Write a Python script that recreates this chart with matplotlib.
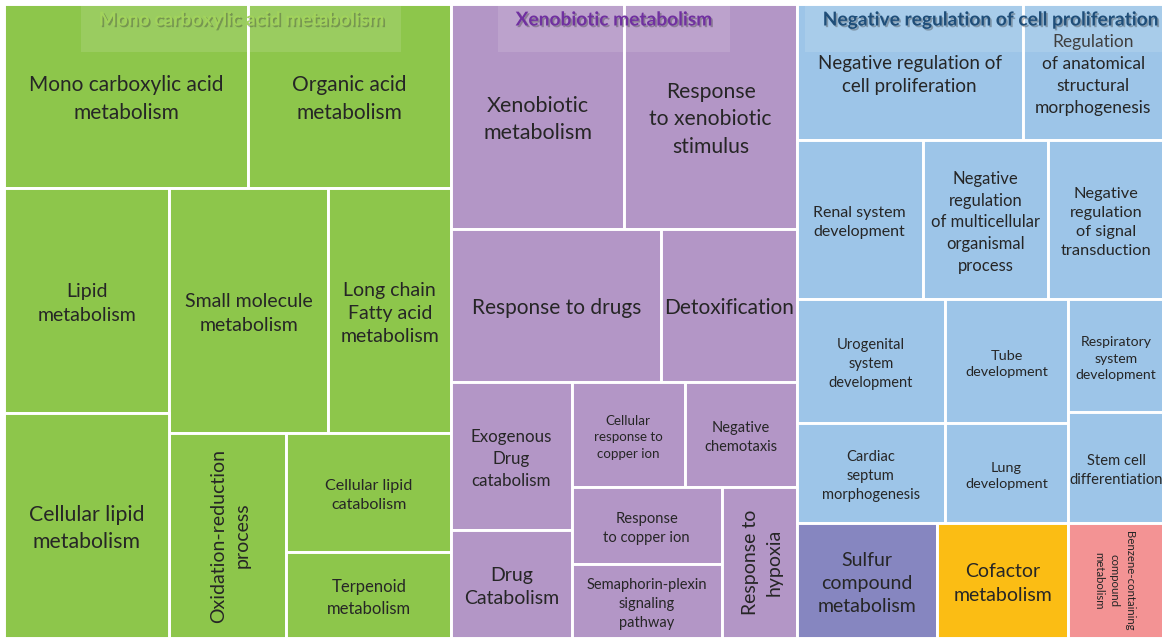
import matplotlib
matplotlib.use('Agg')
import matplotlib.pyplot as plt
from matplotlib.patches import Rectangle
import matplotlib.patheffects as pe

# GO terms (leaf cells), their sizes
labels = [
    "Mono carboxylic acid\nmetabolism", "Organic acid\nmetabolism", "Lipid\nmetabolism",
    "Small molecule\nmetabolism", "Long chain\nFatty acid\nmetabolism", "Oxidation-reduction\nprocess",
    "Cellular lipid\nmetabolism", "Cellular lipid\ncatabolism", "Terpenoid\nmetabolism",
    "Xenobiotic\nmetabolism", "Response\nto xenobiotic\nstimulus", "Response to drugs",
    "Detoxification", "Exogenous\nDrug\ncatabolism", "Drug\nCatabolism",
    "Cellular\nresponse to\ncopper ion", "Negative\nchemotaxis", "Response\nto copper ion",
    "Semaphorin-plexin\nsignaling\npathway", "Response to\nhypoxia",
    "Negative regulation of\ncell proliferation", "Regulation\nof anatomical\nstructural\nmorphogenesis",
    "Renal system\ndevelopment", "Negative\nregulation\nof multicellular\norganismal\nprocess",
    "Negative\nregulation\nof signal\ntransduction", "Urogenital\nsystem\ndevelopment",
    "Cardiac\nseptum\nmorphogenesis", "Tube\ndevelopment", "Lung\ndevelopment",
    "Respiratory\nsystem\ndevelopment", "Stem cell\ndifferentiation",
    "Sulfur\ncompound\nmetabolism", "Cofactor\nmetabolism", "Benzene-containing\ncompound\nmetabolism",
]
values = [449, 374, 371, 390, 301, 240, 371, 196, 142,
          389, 387, 321, 207, 178, 130, 119, 118, 116, 111, 113,
          307, 192, 200, 199, 184, 184, 148, 153, 123, 109, 106,
          161, 151, 110]
groups = ['lipid'] * 9 + ['xeno'] * 11 + ['prolif'] * 11 + ['sulfur', 'cofactor', 'benzene']

headers = {'lipid': "Mono carboxylic acid metabolism",
           'xeno': "Xenobiotic metabolism",
           'prolif': "Negative regulation of cell proliferation"}

colors = {'lipid': '#8dc64b', 'xeno': '#b396c6', 'prolif': '#9dc5e8',
          'sulfur': '#8686c0', 'cofactor': '#fbbd14', 'benzene': '#f39394'}
header_colors = {'lipid': '#a2d35c', 'xeno': '#7030a0', 'prolif': '#1f4e79'}
header_pos = {'lipid': 0.53, 'xeno': 0.47, 'prolif': 0.527}

# nested slice layout: 'h' = side by side, 'v' = stacked
tree = ('h', [
    ('v', [('h', [0, 1]),
           ('h', [('v', [2, 6]),
                  ('v', [('h', [3, 4]), ('h', [5, ('v', [7, 8])])])])]),
    ('v', [('h', [9, 10]), ('h', [11, 12]),
           ('h', [('v', [13, 14]),
                  ('v', [('h', [15, 16]), ('h', [('v', [17, 18]), 19])])])]),
    ('v', [('v', [('h', [20, 21]), ('h', [22, 23, 24]),
                  ('h', [('v', [25, 26]), ('v', [27, 28]), ('v', [29, 30])])]),
           ('h', [31, 32, 33])]),
])

sizes = [15, 15, 14, 14, 14, 14, 15.3, 11.6, 12,
         15.5, 15.2, 15, 15, 12.2, 14, 9.6, 10.5, 10.6, 10.5, 14,
         13.5, 12.5, 11.5, 12, 11.8, 10.5, 10.5, 10.4, 10.4, 10.1, 10.6,
         14, 14, 8.2]
rotations = {5: 90, 19: 90, 33: -90}


def total(node):
    if isinstance(node, int):
        return values[node]
    return sum(total(c) for c in node[1])


def place(node, x, y, w, h, rects):
    if isinstance(node, int):
        rects[node] = (x, y, w, h)
        return
    orient, children = node
    s = float(total(node))
    for c in children:
        f = total(c) / s
        if orient == 'h':
            place(c, x, y, w * f, h, rects)
            x += w * f
        else:
            place(c, x, y, w, h * f, rects)
            y += h * f


plt.rcParams['font.family'] = ['Lato', 'DejaVu Sans']

fig = plt.figure(figsize=(11.62, 6.40), dpi=100)
ax = fig.add_axes([0, 0, 1, 1])
ax.set_xlim(0, 1162)
ax.set_ylim(640, 0)
ax.axis('off')

rects = {}
place(tree, 4, 4, 1160, 634, rects)

for i, lab in enumerate(labels):
    x, y, w, h = rects[i]
    rot = rotations.get(i, 0)
    # nudge labels a little "down" in their own reading direction
    dx, dy = {0: (0, 3), 90: (3, 0), -90: (-2, 0)}[rot]
    ax.add_patch(Rectangle((x, y), w, h, facecolor=colors[groups[i]],
                           edgecolor='white', lw=2.1))
    ax.text(x + w / 2 + dx, y + h / 2 + dy, lab, ha='center', va='center',
            fontsize=sizes[i], color='#262626', rotation=rot,
            linespacing=1.45)

# cluster headers on top of each group
fig.canvas.draw()
rend = fig.canvas.get_renderer()
shadow = [pe.SimplePatchShadow(offset=(1.2, -1.2), shadow_rgbFace='#333333', alpha=0.35), pe.Normal()]
for g, title in headers.items():
    idx = [i for i in range(len(labels)) if groups[i] == g]
    gx0 = min(rects[i][0] for i in idx)
    gx1 = max(rects[i][0] + rects[i][2] for i in idx)
    gy0 = min(rects[i][1] for i in idx)
    cx = gx0 + header_pos[g] * (gx1 - gx0)
    t = ax.text(cx, gy0 + 16, title, ha='center', va='center', fontsize=13.8,
                fontweight='bold', color=header_colors[g], path_effects=shadow, zorder=5)
    bb = t.get_window_extent(rend).transformed(ax.transData.inverted())
    bx0, bx1 = min(bb.x0, bb.x1) - 18, max(bb.x0, bb.x1) + 18
    ax.add_patch(Rectangle((bx0, gy0 + 1), bx1 - bx0, 47, facecolor='white',
                           alpha=0.12, edgecolor='none', zorder=4))

fig.savefig('out.png', dpi=100)
